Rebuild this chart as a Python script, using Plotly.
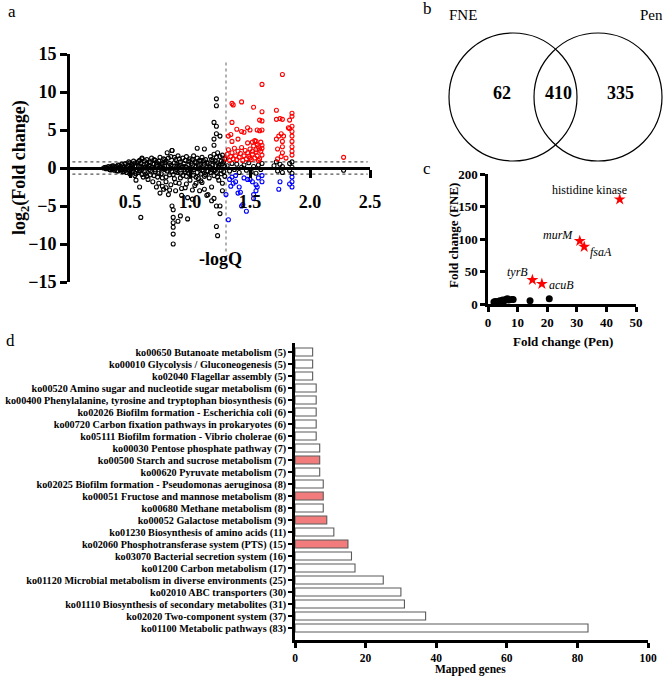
import plotly.graph_objects as go

W, H = 667, 680
def fx(x): return x / W
def fy(y): return 1 - y / H

FONT = "Liberation Serif, Times New Roman, serif"

# ---------------- Panel a: volcano data ----------------
black_x = [0.28,0.30,0.30,0.32,0.33,0.34,0.35,0.36,0.37,0.38,
           0.40,0.40,0.42,0.42,0.43,0.44,0.45,0.46,0.46,0.47,0.48,0.49,0.50,0.50,0.51,0.52,0.53,0.54,0.55,0.55,
           0.56,0.57,0.58,0.58,0.60,0.60,0.61,0.62,0.63,0.64,0.65,0.65,0.66,0.67,0.68,0.69,0.70,0.70,
           0.71,0.72,0.73,0.74,0.75,0.75,0.76,0.77,0.78,0.78,0.79,0.80,0.80,0.81,0.82,0.82,0.83,0.84,0.84,0.85,
           0.86,0.87,0.88,0.88,0.89,0.90,0.90,0.91,0.92,0.93,0.94,0.94,0.95,0.96,0.97,0.98,0.98,0.99,1.00,1.00,
           1.01,1.02,1.02,1.03,1.04,1.05,1.05,1.06,1.07,1.08,1.08,1.09,1.10,1.10,1.11,1.12,1.13,1.14,1.14,1.15,
           1.16,1.17,1.18,1.18,1.19,1.20,1.20,1.21,1.22,1.22,1.23,1.24,1.25,1.25,1.26,1.27,1.27,1.28,1.29,1.29,
           1.31,1.33,1.35,1.37,1.39,1.41,1.43,1.45,1.47,1.49,1.51,1.53,1.55,1.57,1.59,1.60,1.70,1.72,1.73,1.75,
           1.77,1.77,1.83,1.83,1.85,1.85,1.85,2.28,
           0.33,0.36,0.39,0.41,0.44,0.47,0.49,0.52,0.53,0.56,0.57,0.59,0.61,0.62,0.64,0.66,0.67,0.69,0.71,0.72,
           0.74,0.76,0.77,0.79,0.81,0.83,0.85,0.87,0.89,0.91,0.92,0.95,0.96,0.97,0.99,1.01,1.03,1.04,1.06,1.07,
           1.09,1.11,1.12,1.13,1.16,1.17,1.19,1.21,1.23,1.24,1.26,1.28,
           0.29,0.31,0.34,0.35,0.37,0.39,0.41,0.43,0.45,0.46,0.48,0.50,0.51,0.52,0.54,0.55,0.57,0.58,0.59,0.60,
           0.62,0.63,0.64,0.66,0.67,0.68,0.70,0.71,0.72,0.73,0.75,0.76,0.78,0.79,0.80,0.82,0.83,0.84,0.86,0.87,
           0.88,0.90,0.91,0.92,0.93,0.95,0.96,0.97,0.99,1.00,1.02,1.03,1.05,1.06,1.07,1.09,1.10,1.11,1.12,1.14,
           1.15,1.17,1.18,1.20,1.21,1.23,1.24,1.26,1.27,1.29,
           1.22,1.22,1.20,1.22,1.22,1.20,1.25,1.20,1.12,0.85,0.60,
           0.59,0.85,0.86,0.86,0.86,0.86,0.86,0.86,0.90,0.92,0.98,1.20,1.22,1.25,1.22,1.23,1.15,1.18,1.25,1.27,
           0.74,0.77,0.80,0.83,0.88,0.93,0.97,1.02,1.05,1.09]
black_y = [0.0,0.1,-0.1,0.2,-0.2,0.1,-0.1,0.3,-0.3,0.0,
           0.4,-0.4,0.2,-0.2,0.5,-0.5,0.1,0.6,-0.3,-0.6,0.3,0.8,-0.8,0.0,0.5,-0.4,0.9,-1.0,0.2,-1.6,
           0.7,-0.6,1.0,-2.5,-0.2,1.2,-1.2,0.4,-0.8,1.1,-1.5,0.0,0.8,-0.4,1.3,-1.8,0.5,-1.0,
           1.0,-2.5,0.2,-0.7,1.4,-3.3,0.6,-1.3,1.2,-2.8,-0.2,0.9,-1.8,2.0,0.3,-3.5,-0.9,1.5,-2.2,2.3,
           0.0,-1.4,1.1,-3.0,0.5,-0.6,1.6,-2.0,0.8,-3.6,1.3,-1.0,0.2,-2.6,1.5,-0.3,-3.9,0.9,-1.6,1.2,
           -0.5,0.4,-4.1,1.6,-2.3,0.7,-1.2,2.6,-0.1,1.0,-3.0,-0.8,1.4,-1.9,0.3,-2.8,1.1,-0.4,-3.6,0.6,
           -1.3,1.5,-0.2,-2.5,0.9,1.8,-1.0,0.3,1.4,-0.6,2.0,-1.6,0.5,1.5,-0.3,1.7,-2.0,0.8,-1.1,0.2,
           0.3,-0.4,0.6,-0.2,0.5,-0.6,0.1,0.4,-0.3,0.7,-0.5,0.2,-0.7,0.4,-0.2,0.6,0.3,0.8,-0.4,0.5,
           -0.6,0.2,0.6,-0.3,0.8,-0.7,0.1,-0.3,
           0.05,-0.15,0.2,-0.05,0.3,0.1,-0.3,0.45,-0.1,-0.3,0.3,0.6,0.1,-0.5,0.5,-0.2,0.7,0.1,-0.5,0.4,
           0.9,-0.1,0.5,0.7,-0.4,0.6,-0.5,0.7,-0.2,0.4,-0.7,0.6,-0.5,0.1,-0.7,0.6,-0.2,0.8,-0.6,0.3,
           0.9,-0.4,0.5,-0.9,0.2,-0.6,0.4,-0.3,0.7,0.1,0.9,-0.5,
           0.05,-0.05,-0.25,0.25,0.15,-0.35,0.35,-0.25,-0.45,0.45,-0.15,0.65,-0.55,0.15,0.65,-0.75,0.85,-0.35,0.25,-0.85,
           0.95,0.15,-1.1,0.35,-0.9,0.05,1.1,-0.25,0.75,-1.2,0.35,-0.75,-0.05,1.1,-1.2,1.3,-0.15,0.35,-0.85,1.4,
           -0.45,0.25,1.2,-1.3,0.05,-0.25,1.0,-1.1,0.45,-0.15,1.1,-0.95,0.15,1.3,-1.4,0.45,-0.25,1.0,-1.1,0.75,
           -0.45,0.05,1.1,-0.35,0.95,-1.2,0.35,-0.75,0.55,1.2,
           9.1,8.2,6.0,5.5,4.5,3.8,4.2,3.0,2.5,2.3,1.3,
           -6.5,-5.0,-5.5,-6.5,-7.2,-7.8,-8.7,-10.0,-7.0,-6.3,-6.7,-4.0,-5.0,-5.0,-7.7,-8.9,-3.5,-4.3,-6.0,-3.0,
           -2.0,-2.4,-2.6,-2.9,-1.9,-2.7,-2.1,-2.9,-2.0,-1.7]

red_x = [1.77,1.60,1.35,1.36,1.43,1.53,1.60,1.72,1.75,1.77,1.72,1.83,1.85,1.85,1.58,1.60,1.35,1.48,1.50,1.45,
         1.43,1.39,1.60,1.56,1.58,1.32,1.34,1.35,1.40,1.48,1.52,1.55,1.60,1.72,1.74,1.76,1.78,1.82,1.83,1.85,
         1.85,1.85,1.85,1.85,1.85,1.85,1.77,1.77,1.77,1.76,1.73,1.73,1.80,2.28,
         1.30,1.31,1.32,1.33,1.34,1.35,1.36,1.37,1.38,1.39,1.40,1.41,1.42,1.43,1.44,1.45,1.46,1.47,1.48,1.49,
         1.50,1.51,1.52,1.53,1.54,1.55,1.56,1.57,1.58,1.59,1.60,1.60,1.54,1.56,1.58,1.59,1.55,1.52,1.57,1.50]
red_y = [12.3,11.0,8.5,8.3,8.7,8.0,7.4,7.6,6.5,6.4,6.4,6.3,7.2,6.8,6.3,6.2,6.0,5.3,5.0,4.7,
         4.8,5.1,5.0,5.0,4.9,4.2,4.4,3.5,3.8,3.3,3.4,3.5,3.0,3.8,4.2,4.5,4.2,5.3,5.2,5.5,
         4.8,4.2,3.5,2.8,2.2,1.7,3.5,2.8,2.0,1.5,2.5,1.2,1.3,1.4,
         1.2,1.8,2.4,1.0,1.5,2.0,1.2,2.6,1.6,1.1,2.2,1.4,1.9,2.7,1.0,1.6,2.3,1.2,2.0,1.5,
         2.5,1.1,1.8,2.9,1.3,2.1,1.6,2.8,1.2,2.2,1.7,2.6,3.6,3.1,2.5,3.4,2.4,2.2,1.0,1.3]

blue_x = [1.30,1.32,1.33,1.35,1.36,1.38,1.40,1.42,1.43,1.44,1.47,1.48,1.50,1.52,1.55,1.56,1.57,1.60,1.60,1.53,
          1.53,1.55,1.75,1.74,1.83,1.85,1.85,1.85,1.45,1.38,1.41,1.34]
blue_y = [-3.5,-6.8,-1.5,-1.2,-2.0,-1.8,-3.3,-3.2,-5.0,-4.8,-5.7,-1.5,-1.5,-1.8,-2.2,-2.5,-1.3,-1.0,-1.8,-3.5,
          -4.0,-3.0,-1.8,-2.8,-2.1,-2.5,-1.2,-1.8,-1.3,-1.0,-2.5,-2.4]

logq_cut = 1.3
fc_cut = 0.8

# ---------------- Panel b: Venn ----------------
venn_sets = ["FNE", "Pen"]
venn_counts = [62, 410, 335]

# ---------------- Panel c ----------------
dot_pen = [2.0, 2.5, 3.0, 3.5, 4.0, 4.5, 5.0, 5.5, 6.0, 6.5, 7.0, 8.0, 8.5, 14.2, 20.7]
dot_fne = [3.0, 4.0, 3.0, 4.0, 5.0, 4.5, 6.0, 5.0, 7.0, 8.0, 6.0, 7.0, 7.0, 5.0, 8.0]
star_pen = [44.5, 31.0, 32.5, 15.0, 18.2]
star_fne = [161, 97, 88, 37, 31]
star_genes = ["histidine kinase", "<i>murM</i>", "<i>fsaA</i>", "<i>tyrB</i>", "<i>acuB</i>"]
label_shift_x = [-30, -22, 17, -15, 20]
label_shift_y = [9, 6, -5, 8, -1]

# ---------------- Panel d ----------------
pathways = [
    "ko00650 Butanoate metabolism (5)",
    "ko00010 Glycolysis / Gluconeogenesis (5)",
    "ko02040 Flagellar assembly (5)",
    "ko00520 Amino sugar and nucleotide sugar metabolism (6)",
    "ko00400 Phenylalanine, tyrosine and tryptophan biosynthesis (6)",
    "ko02026 Biofilm formation - Escherichia coli (6)",
    "ko00720 Carbon fixation pathways in prokaryotes (6)",
    "ko05111 Biofilm formation - Vibrio cholerae (6)",
    "ko00030 Pentose phosphate pathway (7)",
    "ko00500 Starch and sucrose metabolism (7)",
    "ko00620 Pyruvate metabolism (7)",
    "ko02025 Biofilm formation - Pseudomonas aeruginosa (8)",
    "ko00051 Fructose and mannose metabolism (8)",
    "ko00680 Methane metabolism (8)",
    "ko00052 Galactose metabolism (9)",
    "ko01230 Biosynthesis of amino acids (11)",
    "ko02060 Phosphotransferase system (PTS) (15)",
    "ko03070 Bacterial secretion system (16)",
    "ko01200 Carbon metabolism (17)",
    "ko01120 Microbial metabolism in diverse environments (25)",
    "ko02010 ABC transporters (30)",
    "ko01110 Biosynthesis of secondary metabolites (31)",
    "ko02020 Two-component system (37)",
    "ko01100 Metabolic pathways (83)",
]
mapped = [5, 5, 5, 6, 6, 6, 6, 6, 7, 7, 7, 8, 8, 8, 9, 11, 15, 16, 17, 25, 30, 31, 37, 83]
highlighted = [False, False, False, False, False, False, False, False, False, True, False, False, True,
               False, True, False, True, False, False, False, False, False, False, False]

fig = go.Figure()

# Panel a traces
mk = dict(symbol="circle-open", size=4, line=dict(width=1.1))
fig.add_trace(go.Scatter(x=black_x, y=black_y, mode="markers", xaxis="x", yaxis="y",
                         marker=dict(color="black", **mk), showlegend=False))
fig.add_trace(go.Scatter(x=red_x, y=red_y, mode="markers", xaxis="x", yaxis="y",
                         marker=dict(color="#ff0000", **mk), showlegend=False))
fig.add_trace(go.Scatter(x=blue_x, y=blue_y, mode="markers", xaxis="x", yaxis="y",
                         marker=dict(color="#0000ff", **mk), showlegend=False))

# Panel c traces
fig.add_trace(go.Scatter(x=dot_pen, y=dot_fne, mode="markers", xaxis="x2", yaxis="y2",
                         marker=dict(color="black", size=7), showlegend=False, cliponaxis=False))
fig.add_trace(go.Scatter(x=star_pen, y=star_fne, mode="markers", xaxis="x2", yaxis="y2",
                         marker=dict(color="#ff0000", size=9, symbol="star"), showlegend=False,
                         cliponaxis=False))

# Panel d trace
fig.add_trace(go.Bar(y=pathways, x=mapped, orientation="h", xaxis="x3", yaxis="y3", width=0.66,
                     marker=dict(color=["#f27b7b" if h else "white" for h in highlighted],
                                 line=dict(color="#5a5a5a", width=1.1)),
                     showlegend=False))

bold = dict(family=FONT, color="black", weight="bold")

fig.update_layout(
    width=W, height=H, margin=dict(l=0, r=0, t=0, b=0, autoexpand=False),
    paper_bgcolor="white", plot_bgcolor="rgba(0,0,0,0)",
    font=dict(family=FONT, color="black"),
    xaxis=dict(domain=[fx(70), fx(370)], range=[0, 2.5], anchor="free", position=fy(168),
               automargin=False,
               showline=True, linewidth=3, linecolor="black", showgrid=False, zeroline=False,
               ticks="outside", ticklen=8, tickwidth=3, tickcolor="black",
               tickvals=[0.5, 1.0, 1.5, 2.0, 2.5], ticktext=["0.5", "1.0", "1.5", "2.0", "2.5"],
               ticklabelstandoff=8, tickfont=dict(size=18, **bold)),
    yaxis=dict(domain=[fy(282), fy(54)], range=[-15, 15], anchor="x", automargin=False,
               showline=True, linewidth=3, linecolor="black", showgrid=False, zeroline=False,
               ticks="outside", ticklen=7, tickwidth=3, tickcolor="black",
               tickvals=[-15, -10, -5, 0, 5, 10, 15], tickfont=dict(size=18, **bold)),
    xaxis2=dict(domain=[fx(488), fx(636)], range=[0, 50], anchor="y2", automargin=False,
                showline=True, linewidth=2.5, linecolor="black", showgrid=False, zeroline=False,
                ticks="outside", ticklen=5, tickwidth=2.5, tickcolor="black",
                tickvals=[0, 10, 20, 30, 40, 50], tickfont=dict(size=13, **bold)),
    yaxis2=dict(domain=[fy(304), fy(174)], range=[0, 200], anchor="x2", automargin=False,
                showline=True, linewidth=2.5, linecolor="black", showgrid=False, zeroline=False,
                ticks="outside", ticklen=5, tickwidth=2.5, tickcolor="black",
                tickvals=[0, 50, 100, 150, 200], tickfont=dict(size=13, **bold)),
    xaxis3=dict(domain=[fx(295), fx(648)], range=[0, 100], anchor="y3", automargin=False,
                showline=True, linewidth=2.5, linecolor="black", showgrid=False, zeroline=False,
                ticks="outside", ticklen=5, tickwidth=2.5, tickcolor="black",
                tickvals=[0, 20, 40, 60, 80, 100], tickfont=dict(size=11.5, **bold)),
    yaxis3=dict(domain=[fy(640), fy(343)], anchor="x3", type="category", automargin=False,
                categoryorder="array", categoryarray=pathways[::-1], range=[-1, 23.75],
                tickmode="array", tickvals=pathways, ticktext=pathways,
                showline=True, linewidth=2.5, linecolor="black", showgrid=False, zeroline=False,
                ticks="outside", ticklen=4, tickwidth=2, tickcolor="black",
                tickfont=dict(size=10.2, **bold)),
)

shapes = []
# threshold lines in panel a
shapes.append(dict(type="line", xref="x", yref="y", x0=logq_cut, x1=logq_cut, y0=-11, y1=14,
                   line=dict(color="#888888", width=1.3, dash="dot"), layer="below"))
for v in (fc_cut, -fc_cut):
    shapes.append(dict(type="line", xref="x", yref="y", x0=0.02, x1=2.48, y0=v, y1=v,
                       line=dict(color="#555555", width=1.3, dash="dot"), layer="below"))
# Venn circles
r = 64
for cx in (513, 598):
    shapes.append(dict(type="circle", xref="paper", yref="paper",
                       x0=fx(cx - r), x1=fx(cx + r), y0=fy(97 + r), y1=fy(97 - r),
                       line=dict(color="black", width=1.2), fillcolor="rgba(0,0,0,0)"))
fig.update_layout(shapes=shapes)

ann = []
def A(text, x, y, size, weight="normal", angle=0):
    ann.append(dict(text=text, x=fx(x), y=fy(y), xref="paper", yref="paper", showarrow=False,
                    xanchor="center", yanchor="middle", textangle=angle,
                    font=dict(family=FONT, size=size, color="black", weight=weight)))

# panel letters
A("a", 12, 11, 17)
A("b", 427, 9, 17)
A("c", 427, 168, 17)
A("d", 10, 340, 17)
# panel a titles
A("log<sub>2</sub>(Fold change)", 20, 168, 18, "bold", angle=-90)
A("-logQ", 220, 259, 18, "bold")
# Venn labels
A(venn_sets[0], 463, 15, 15)
A(venn_sets[1], 651, 15, 15)
A(str(venn_counts[0]), 502, 93, 18, "bold")
A(str(venn_counts[1]), 558, 93, 18, "bold")
A(str(venn_counts[2]), 620, 93, 18, "bold")
# panel c titles
A("Fold change (FNE)", 453, 236, 13, "bold", angle=-90)
A("Fold change (Pen)", 563, 341, 13, "bold")
# panel d title
A("Mapped genes", 470, 669, 11.5, "bold")

fig.update_layout(annotations=ann)

# gene labels in panel c (anchored to the stars)
for g, xv, yv, sx, sy in zip(star_genes, star_pen, star_fne, label_shift_x, label_shift_y):
    fig.add_annotation(text=g, x=xv, y=yv, xref="x2", yref="y2", showarrow=False,
                       xshift=sx, yshift=sy,
                       font=dict(family=FONT, size=12, color="black"))

fig.write_html("out.html", config={"displayModeBar": False},
               post_script="document.body.style.margin='0';document.body.style.overflow='hidden';")
